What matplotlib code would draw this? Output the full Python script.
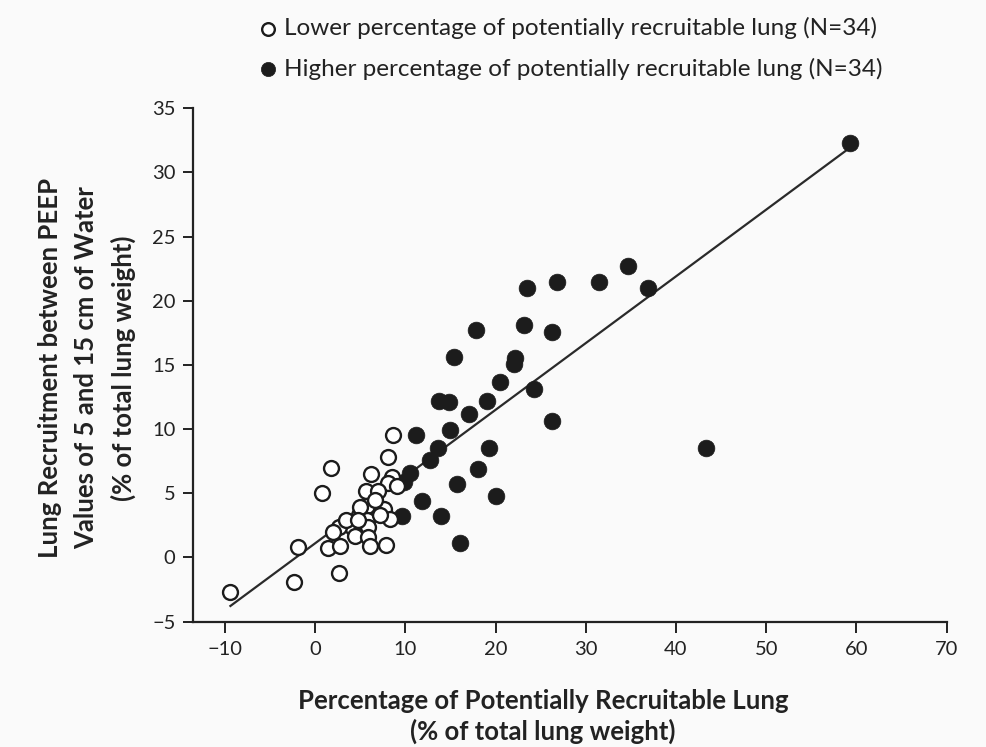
import matplotlib
matplotlib.use("Agg")
import matplotlib.pyplot as plt
import numpy as np

plt.rcParams['font.family'] = ['Lato', 'DejaVu Sans']

# Lower percentage of potentially recruitable lung (open circles)
low_x = [8.6, 8.1, 1.8, 6.2, 8.5, 8.1, 9.1, 0.7, 5.6, 7.0, 5.7, 7.6, 8.3, 4.9, 5.7,
         5.9, 4.1, 2.6, 2.0, 4.4, 5.9, -1.9, 1.4, 2.7, 6.1, 7.8, 2.6, -2.4, -9.4,
         3.4, 5.0, 6.6, 4.7, 7.2]
low_y = [9.5, 7.8, 7.0, 6.5, 6.3, 5.8, 5.6, 5.0, 5.2, 5.2, 4.0, 3.8, 3.0, 3.3, 2.9,
         2.4, 2.4, 2.4, 2.0, 1.7, 1.6, 0.8, 0.7, 0.9, 0.9, 1.0, -1.2, -1.9, -2.7,
         2.9, 3.9, 4.5, 2.9, 3.3]

# Higher percentage of potentially recruitable lung (filled circles)
high_x = [59.3, 34.7, 36.9, 31.5, 26.8, 23.5, 17.8, 23.1, 26.2, 15.4, 22.1, 22.0,
          20.5, 24.3, 19.1, 13.7, 14.8, 17.1, 14.9, 11.2, 26.3, 19.3, 13.6, 12.7,
          10.5, 9.8, 43.3, 18.1, 15.7, 20.1, 11.8, 9.6, 14.0, 16.1]
high_y = [32.3, 22.7, 21.0, 21.5, 21.5, 21.0, 17.7, 18.1, 17.6, 15.6, 15.5, 15.1,
          13.7, 13.1, 12.2, 12.2, 12.1, 11.2, 9.9, 9.5, 10.6, 8.5, 8.5, 7.6,
          6.6, 5.9, 8.5, 6.9, 5.7, 4.8, 4.4, 3.2, 3.2, 1.1]

# Regression line
fit_slope = 0.52
fit_intercept = 1.1
fit_range = [-9.4, 59.3]

x_ticks = [-10, 0, 10, 20, 30, 40, 50, 60, 70]
y_ticks = [-5, 0, 5, 10, 15, 20, 25, 30, 35]
x_tick_labels = ['\u221210', '0', '10', '20', '30', '40', '50', '60', '70']
y_tick_labels = ['\u22125', '0', '5', '10', '15', '20', '25', '30', '35']

bg = '#fafafa'
ink = '#1c1c1c'
txt = '#222222'

fig = plt.figure(figsize=(9.87, 7.47), dpi=100, facecolor=bg)
ax = fig.add_axes([0.196, 0.168, 0.763, 0.687], facecolor=bg)

lx = np.array(fit_range)
ax.plot(lx, fit_intercept + fit_slope * lx, color='#2a2a2a', lw=1.6, zorder=1)

h_low = ax.scatter(low_x, low_y, s=115, facecolor='white', edgecolor=ink, linewidth=1.7,
                   zorder=3, label='Lower percentage of potentially recruitable lung (N=34)')
h_high = ax.scatter(high_x, high_y, s=145, facecolor=ink, edgecolor=ink, linewidth=0.5,
                    zorder=2, label='Higher percentage of potentially recruitable lung (N=34)')

ax.set_xlim(-13.5, 70)
ax.set_ylim(-5, 35)
ax.set_xticks(x_ticks)
ax.set_xticklabels(x_tick_labels)
ax.set_yticks(y_ticks)
ax.set_yticklabels(y_tick_labels)

for s in ['top', 'right']:
    ax.spines[s].set_visible(False)
for s in ['left', 'bottom']:
    ax.spines[s].set_linewidth(1.6)
    ax.spines[s].set_color('#222222')

ax.tick_params(axis='x', direction='out', length=8, width=1.4, color='#222222',
               labelsize=14.5, pad=6, labelcolor=txt)
ax.tick_params(axis='y', direction='out', length=7, width=1.4, color='#222222',
               labelsize=14.5, pad=6, labelcolor=txt)

fig.text(543 / 987, 1 - 716.5 / 747,
         'Percentage of Potentially Recruitable Lung\n(% of total lung weight)',
         fontsize=18.5, fontweight='bold', ha='center', va='center', linespacing=1.3, color=txt)
fig.text(87 / 987, 1 - 368 / 747,
         'Lung Recruitment between PEEP\nValues of 5 and 15 cm of Water\n(% of total lung weight)',
         fontsize=18.5, fontweight='bold', ha='center', va='center', rotation=90,
         linespacing=1.6, color=txt, multialignment='center')

leg = fig.legend(handles=[h_low, h_high], loc='upper left', bbox_to_anchor=(0.248, 0.99),
                 frameon=False, fontsize=17.5, handletextpad=0.1, labelspacing=0.75,
                 markerscale=0.85, borderaxespad=0, handlelength=1.1, labelcolor=txt)

fig.savefig('out.png', dpi=100, facecolor=bg)
